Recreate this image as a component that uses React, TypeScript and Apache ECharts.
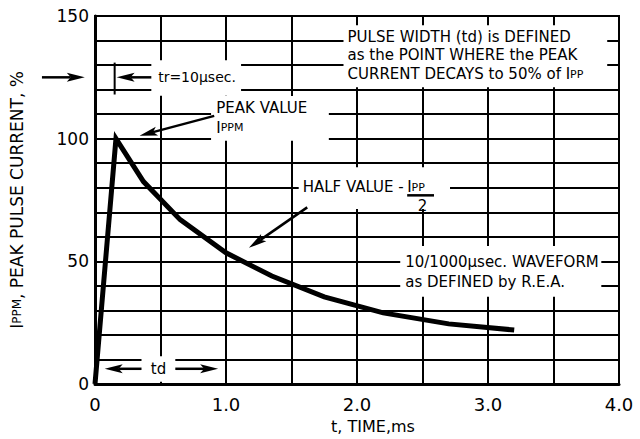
import React, { useEffect, useRef } from "react";
import * as echarts from "echarts";

// Waveform (10/1000 µs)
const timeMs = [0, 0.16, 0.37, 0.65, 1.0, 1.35, 1.75, 2.2, 2.7, 3.2];
const currentPct = [0, 100, 82.5, 67, 53.5, 44, 35.5, 29, 24.5, 22];

// Labelled ticks
const xTickValues = [0, 1, 2, 3, 4];
const xTickLabels = ["0", "1.0", "2.0", "3.0", "4.0"];
const yTickValues = [0, 50, 100, 150];
const yTickLabels = ["0", "50", "100", "150"];

const xAxisName = "t, TIME,ms";
const yAxisNameMain = ", PEAK PULSE CURRENT, %";

const FONT = "DejaVu Sans";
const ANN = 15;

type Pt = [number, number];

function arrow(a: Pt, b: Pt, z = 30): any[] {
  const dx = b[0] - a[0];
  const dy = b[1] - a[1];
  const L = Math.hypot(dx, dy) || 1;
  const ux = dx / L;
  const uy = dy / L;
  const px = -uy;
  const py = ux;
  const hl = 18;
  const hw = 4.5;
  const notch = 4;
  const base: Pt = [b[0] - ux * hl, b[1] - uy * hl];
  const n: Pt = [b[0] - ux * (hl - notch), b[1] - uy * (hl - notch)];
  return [
    {
      type: "line",
      z,
      shape: { x1: a[0], y1: a[1], x2: n[0], y2: n[1] },
      style: { stroke: "#000", lineWidth: 2.5 },
    },
    {
      type: "polygon",
      z,
      shape: {
        points: [
          b,
          [base[0] + px * hw, base[1] + py * hw],
          n,
          [base[0] - px * hw, base[1] - py * hw],
        ],
      },
      style: { fill: "#000" },
    },
  ];
}

export default function App() {
  const ref = useRef<HTMLDivElement>(null);

  useEffect(() => {
    const chart = echarts.init(ref.current!, null, { renderer: "svg" });
    chart.setOption({
      animation: false,
      backgroundColor: "#ffffff",
      grid: {
        left: 93,
        right: 21,
        top: 16,
        bottom: 53,
        show: true,
        borderColor: "#000",
        borderWidth: 2,
        backgroundColor: "transparent",
      },
      xAxis: {
        type: "value",
        min: 0,
        max: 4,
        interval: 0.5,
        axisLine: { show: true, onZero: false, lineStyle: { color: "#000", width: 3 } },
        axisTick: { show: false },
        splitLine: { show: true, lineStyle: { color: "#000", width: 2 } },
        axisLabel: {
          margin: 11,
          color: "#000",
          fontFamily: FONT,
          fontSize: 18,
          formatter: (v: number) => {
            const i = xTickValues.findIndex((t) => Math.abs(t - v) < 1e-9);
            return i >= 0 ? xTickLabels[i] : "";
          },
        },
        name: xAxisName,
        nameLocation: "middle",
        nameGap: 34,
        nameTextStyle: {
          color: "#000",
          fontFamily: FONT,
          fontSize: 16,
          padding: [0, 0, 0, 32],
        },
      },
      yAxis: {
        type: "value",
        min: 0,
        max: 150,
        interval: 10,
        axisLine: { show: true, lineStyle: { color: "#000", width: 3 } },
        axisTick: { show: false },
        splitLine: { show: true, lineStyle: { color: "#000", width: 2 } },
        axisLabel: {
          margin: 6,
          color: "#000",
          fontFamily: FONT,
          fontSize: 17,
          formatter: (v: number) => {
            const i = yTickValues.findIndex((t) => Math.abs(t - v) < 1e-9);
            return i >= 0 ? yTickLabels[i] : "";
          },
        },
        name: "{i|I}{s|PPM}{n|" + yAxisNameMain + "}",
        nameLocation: "middle",
        nameGap: 70,
        nameTextStyle: {
          color: "#000",
          fontFamily: FONT,
          fontSize: 17,
          rich: {
            i: { fontFamily: FONT, fontSize: 17, color: "#000" },
            s: { fontFamily: FONT, fontSize: 12, color: "#000" },
            n: { fontFamily: FONT, fontSize: 17, color: "#000" },
          },
        },
      },
      series: [
        {
          type: "line",
          data: timeMs.map((t, i) => [t, currentPct[i]]),
          showSymbol: false,
          symbol: "none",
          lineStyle: { color: "#000", width: 5, join: "miter" },
          z: 5,
        },
      ],
    });

    const P = (t: number, v: number): Pt =>
      chart.convertToPixel({ gridIndex: 0 }, [t, v]) as Pt;

    const box = (t1: number, v1: number, t2: number, v2: number) => {
      const a = P(t1, v1);
      const b = P(t2, v2);
      return {
        type: "rect",
        z: 10,
        shape: {
          x: Math.min(a[0], b[0]),
          y: Math.min(a[1], b[1]),
          width: Math.abs(b[0] - a[0]),
          height: Math.abs(b[1] - a[1]),
        },
        style: { fill: "#fff" },
      };
    };

    const text = (
      t: number,
      v: number,
      s: string,
      opts: any = {}
    ) => {
      const p = P(t, v);
      return {
        type: "text",
        z: 40,
        x: p[0],
        y: p[1],
        style: {
          text: s,
          fill: "#000",
          font: `${opts.size || ANN}px "${FONT}"`,
          textAlign: opts.align || "left",
          textVerticalAlign: "middle",
          rich: opts.rich,
        },
      };
    };

    const richSmall = {
      n: { fontFamily: FONT, fontSize: ANN, fill: "#000", color: "#000" },
      s: { fontFamily: FONT, fontSize: 11, fill: "#000", color: "#000" },
    };

    const elements: any[] = [];
    // white masks behind annotation texts
    elements.push(box(0.43, 132, 1.115, 117.5));
    elements.push(box(0.886, 117.4, 1.785, 99.2));
    elements.push(box(1.555, 88.3, 2.71, 71.3));
    elements.push(box(2.33, 56.3, 3.865, 35.6));
    elements.push(box(1.897, 146.2, 3.91, 121));
    elements.push(box(0.355, 11.3, 0.613, 0.9));

    // tr = 10 µsec marker
    elements.push(...arrow(P(-0.405, 125), P(-0.078, 125)));
    {
      const a = P(0.15, 131);
      const b = P(0.15, 118);
      elements.push({
        type: "line",
        z: 30,
        shape: { x1: a[0], y1: a[1], x2: b[0], y2: b[1] },
        style: { stroke: "#000", lineWidth: 2 },
      });
    }
    elements.push(...arrow(P(0.43, 125), P(0.165, 125)));
    elements.push(text(0.482, 125, "tr=10µsec.", { size: 14 }));

    // peak value
    elements.push(text(0.926, 112.5, "PEAK VALUE"));
    elements.push(text(0.926, 104.5, "{n|I}{s|PPM}", { rich: richSmall }));
    elements.push(...arrow(P(0.91, 109.3), P(0.34, 101.2)));

    // half value
    elements.push(text(1.585, 80.2, "HALF VALUE - "));
    elements.push(text(2.383, 80.2, "{n|I}{s|PP}", { rich: richSmall }));
    {
      const a = P(2.383, 76.9);
      const b = P(2.588, 76.9);
      elements.push({
        type: "line",
        z: 30,
        shape: { x1: a[0], y1: a[1], x2: b[0], y2: b[1] },
        style: { stroke: "#000", lineWidth: 2.5 },
      });
    }
    elements.push(text(2.5, 72.5, "2", { align: "center" }));
    elements.push(...arrow(P(1.62, 72), P(1.175, 55.5)));

    // waveform definition
    elements.push(text(2.368, 49.8, "10/1000µsec. WAVEFORM"));
    elements.push(text(2.368, 41.7, "as DEFINED by R.E.A."));

    // pulse width definition
    elements.push(text(1.928, 141.3, "PULSE WIDTH (td) is DEFINED"));
    elements.push(text(1.928, 134, "as the POINT WHERE the PEAK"));
    elements.push(
      text(1.928, 126.3, "{n|CURRENT DECAYS to 50% of I}{s|PP}", { rich: richSmall })
    );

    // td marker
    elements.push(...arrow(P(0.355, 6.2), P(0.074, 6.2)));
    elements.push(...arrow(P(0.613, 6.2), P(0.94, 6.2)));
    elements.push(text(0.485, 6.2, "td", { align: "center" }));

    chart.setOption({ graphic: { elements } });

    return () => chart.dispose();
  }, []);

  return (
    <div
      ref={ref}
      style={{ position: "fixed", left: 0, top: 0, width: 640, height: 439 }}
    />
  );
}
